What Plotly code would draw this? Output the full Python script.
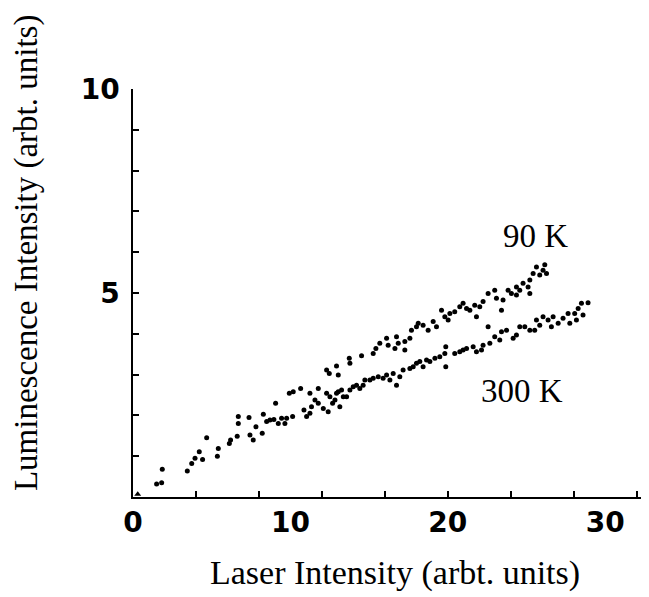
import plotly.graph_objects as go

# ---- data ----
k90_x = [1.50, 1.86, 3.45, 3.94, 4.21, 4.68, 5.42, 6.20, 6.69, 6.69, 7.37, 7.81, 8.28, 9.06, 8.95,
         9.44, 9.93, 10.18, 10.14, 10.65, 11.24, 11.77, 12.30, 12.47, 12.93, 13.04, 13.74, 13.78,
         14.52, 15.26, 15.43, 15.68, 16.11, 16.21, 16.64, 16.74, 16.85, 17.27, 17.27, 17.59, 17.69,
         18.01, 18.12, 18.43, 18.75, 19.07, 19.28, 19.60, 19.81, 20.02, 20.13, 20.44, 20.76, 20.97,
         21.19, 21.40, 21.71, 21.82, 22.03, 22.24, 22.56, 22.98, 23.09, 23.41, 23.51, 23.83, 24.04,
         24.36, 24.36, 24.57, 24.78, 25.10, 25.21, 25.21, 25.42, 25.63, 25.84, 26.05, 26.16, 26.27]
k90_y = [0.32, 0.68, 0.64, 0.95, 1.11, 1.45, 1.19, 1.40, 1.80, 1.97, 1.95, 1.72, 2.03, 2.30, 1.90,
         1.93, 2.54, 2.58, 1.97, 2.66, 2.54, 2.66, 3.11, 3.03, 3.21, 2.99, 3.40, 3.28,
         3.46, 3.52, 3.64, 3.77, 3.89, 3.72, 3.64, 3.93, 3.77, 3.60, 3.81, 3.89, 4.09,
         4.17, 4.26, 4.21, 4.09, 4.30, 4.17, 4.58, 4.42, 4.34, 4.50, 4.54, 4.66, 4.75,
         4.62, 4.58, 4.70, 4.42, 4.66, 4.79, 4.99, 5.07, 4.87, 4.58, 4.83, 5.07, 4.99,
         5.15, 4.95, 5.07, 5.24, 5.15, 5.32, 4.99, 5.48, 5.64, 5.44, 5.56, 5.69, 5.48]

k300_x = [1.82, 3.73, 4.42, 5.36, 6.12, 6.62, 7.43, 7.64, 8.21, 8.49, 8.70, 9.23, 9.65, 9.76,
          10.86, 11.03, 11.24, 11.34, 11.56, 11.77, 12.09, 12.30, 12.40, 12.51, 12.68, 12.83,
          12.93, 13.04, 13.14, 13.25, 13.36, 13.57, 13.78, 13.99, 14.20, 14.41, 14.62, 14.73,
          15.05, 15.26, 15.58, 15.89, 16.11, 16.32, 16.53, 16.74, 16.95, 17.16, 17.59, 17.80,
          18.01, 18.22, 18.43, 18.65, 18.86, 19.18, 19.49, 19.81, 19.87, 19.87, 20.44, 20.76,
          20.97, 21.19, 21.61, 21.82, 22.14, 22.24, 22.56, 22.67, 22.98, 23.30, 23.41, 23.73,
          24.15, 24.36, 24.57, 24.89, 25.21, 25.52, 25.63, 25.84, 26.05, 26.37, 26.58, 26.69,
          27.01, 27.32, 27.64, 27.75, 28.06, 28.17, 28.28, 28.49, 28.59, 28.91]
k300_y = [0.35, 0.82, 0.92, 1.00, 1.31, 1.49, 1.52, 1.40, 1.56, 1.85, 1.89, 1.80, 1.80, 1.93,
          2.13, 1.97, 2.05, 2.21, 2.38, 2.30, 2.17, 2.54, 2.09, 2.46, 2.30, 2.38,
          2.54, 2.58, 2.21, 2.62, 2.46, 2.46, 2.62, 2.70, 2.74, 2.66, 2.74, 2.87,
          2.87, 2.91, 2.95, 2.91, 2.99, 2.87, 3.03, 2.74, 2.95, 3.11, 3.15, 3.19,
          3.28, 3.32, 3.19, 3.36, 3.32, 3.40, 3.44, 3.52, 3.68, 3.19, 3.52, 3.56,
          3.60, 3.64, 3.68, 3.56, 3.60, 3.72, 4.17, 3.77, 3.93, 3.85, 4.05, 4.09,
          3.89, 3.97, 4.17, 4.17, 4.09, 4.09, 4.34, 4.21, 4.42, 4.34, 4.17, 4.42,
          4.26, 4.38, 4.50, 4.26, 4.50, 4.34, 4.62, 4.75, 4.46, 4.76]

origin_x = [0.3]
origin_y = [0.07]

x_tickvals = [0, 10, 20, 30]
x_ticktext = ["0", "10", "20", "30"]
x_minor = [4, 8, 12, 16, 20, 24, 28, 32]
y_tickvals = [5, 10]
y_ticktext = ["5", "10"]

labels = [("90 K", 25.56, 6.40), ("300 K", 24.70, 2.60)]

x_title = "Laser Intensity (arbt. units)"
y_title = "Luminescence Intensity (arbt. units)"

# ---- figure ----
mk = dict(color="black", size=5, symbol="circle")
fig = go.Figure()
fig.add_trace(go.Scatter(x=k90_x, y=k90_y, mode="markers", marker=mk, name="90 K"))
fig.add_trace(go.Scatter(x=k300_x, y=k300_y, mode="markers", marker=mk, name="300 K"))
fig.add_trace(go.Scatter(x=origin_x, y=origin_y, mode="markers",
                         marker=dict(color="black", size=6, symbol="triangle-up"), name="origin"))

serif = "Liberation Serif, Times New Roman, serif"
tickfont = dict(family="DejaVu Sans, Arial, sans-serif", size=28, color="black",
                weight="bold")

for text, x, y in labels:
    fig.add_annotation(x=x, y=y, xref="x", yref="y", text=text, showarrow=False,
                       font=dict(family=serif, size=33, color="black"),
                       xanchor="center", yanchor="middle")

fig.add_annotation(x=0.514, y=-0.186, xref="paper", yref="paper", text=x_title,
                   showarrow=False, font=dict(family=serif, size=34, color="black"),
                   xanchor="center", yanchor="middle")
fig.add_annotation(x=-0.21, y=0.60, xref="paper", yref="paper", text=y_title,
                   showarrow=False, textangle=-90,
                   font=dict(family=serif, size=33, color="black"),
                   xanchor="center", yanchor="middle")

fig.update_layout(
    width=641, height=589,
    margin=dict(l=125, r=6, t=81, b=100),
    paper_bgcolor="white", plot_bgcolor="white",
    showlegend=False,
    xaxis=dict(range=[0, 32.4], showgrid=False, zeroline=False, automargin=False,
               showline=True, linecolor="black", linewidth=1.5,
               tickmode="array", tickvals=x_tickvals, ticktext=x_ticktext,
               ticks="", tickfont=tickfont, ticklabelstandoff=0,
               minor=dict(tickmode="array", tickvals=x_minor, ticks="inside",
                          ticklen=6, tickwidth=1.5, tickcolor="black", showgrid=False)),
    yaxis=dict(range=[0, 10], showgrid=False, zeroline=False, automargin=False,
               showline=True, linecolor="black", linewidth=1.5,
               tickmode="array", tickvals=y_tickvals, ticktext=y_ticktext,
               ticks="inside", ticklen=6, tickwidth=1.5, tickcolor="black",
               tickfont=tickfont, ticklabelstandoff=6,
               minor=dict(dtick=1, tick0=0, ticks="inside", ticklen=6,
                          tickwidth=1.5, tickcolor="black", showgrid=False)),
)

fig.write_html("out.html")
